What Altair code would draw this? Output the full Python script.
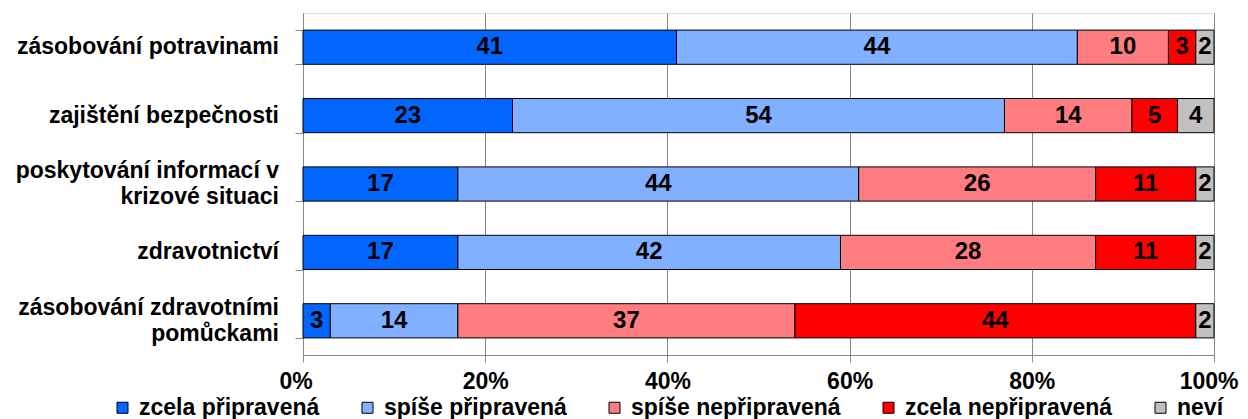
import altair as alt
import pandas as pd

categories = [
    "zásobování potravinami",
    "zajištění bezpečnosti",
    "poskytování informací v|krizové situaci",
    "zdravotnictví",
    "zásobování zdravotními|pomůckami",
]
series_names = ["zcela připravená", "spíše připravená", "spíše nepřipravená", "zcela nepřipravená", "neví"]
zcela_pripravena = [41, 23, 17, 17, 3]
spise_pripravena = [44, 54, 44, 42, 14]
spise_nepripravena = [10, 14, 26, 28, 37]
zcela_nepripravena = [3, 5, 11, 11, 44]
nevi = [2, 4, 2, 2, 2]
colors = ["#0066FF", "#80B0FF", "#FF7C80", "#FF0000", "#C0C0C0"]
x_ticks = [0, 20, 40, 60, 80, 100]

all_series = [zcela_pripravena, spise_pripravena, spise_nepripravena, zcela_nepripravena, nevi]
rows = []
for si, (name, vals) in enumerate(zip(series_names, all_series)):
    for ci, cat in enumerate(categories):
        rows.append({"category": cat, "series": name, "order": si, "value": vals[ci]})
df = pd.DataFrame(rows)
cat_df = pd.DataFrame({"category": categories})

FONT = "Liberation Sans"

base = alt.Chart(df).transform_stack(
    stack="value", groupby=["category"], as_=["x0", "x1"], sort=[alt.SortField("order")]
).transform_calculate(mid="(datum.x0 + datum.x1) / 2")

y_enc = alt.Y(
    "category:N",
    sort=categories,
    title=None,
    scale=alt.Scale(paddingInner=0.5, paddingOuter=0.25),
    axis=alt.Axis(
        labels=False,
        tickBand="extent",
        tickSize=8,
        tickColor="#888888",
        domainColor="#888888",
        grid=False,
    ),
)

bars = base.mark_bar(stroke="black", strokeWidth=1).encode(
    y=y_enc,
    x=alt.X(
        "x0:Q",
        scale=alt.Scale(domain=[0, 100], nice=False),
        title=None,
        axis=alt.Axis(
            values=x_ticks,
            labelExpr="datum.value + '%'",
            labelFont=FONT,
            labelFontSize=23,
            labelFontWeight="bold",
            labelColor="black",
            labelPadding=8,
            labelFlush=True,
            labelFlushOffset=24,
            tickSize=7,
            tickColor="#888888",
            domainColor="#888888",
            gridColor="#888888",
            gridWidth=1,
            grid=True,
        ),
    ),
    x2="x1:Q",
    color=alt.Color(
        "series:N",
        scale=alt.Scale(domain=series_names, range=colors),
        legend=alt.Legend(
            title=None,
            orient="none",
            direction="horizontal",
            legendX=-192,
            legendY=383,
            symbolType="square",
            symbolSize=121,
            symbolStrokeColor="black",
            symbolStrokeWidth=1,
            labelFont=FONT,
            labelFontSize=23,
            labelFontWeight="bold",
            labelColor="black",
            labelOffset=5,
            labelLimit=400,
            columnPadding=36,
        ),
    ),
    order=alt.Order("order:Q"),
)

labels = base.mark_text(
    font=FONT, fontSize=24, fontWeight="bold", color="black", baseline="middle", align="center"
).encode(
    y=alt.Y("category:N", sort=categories),
    x=alt.X("mid:Q"),
    text=alt.Text("value:Q"),
)

cat_base = alt.Chart(cat_df)
cat_text_style = dict(
    font=FONT, fontSize=23, fontWeight="bold", color="black",
    baseline="middle", align="right", lineBreak="|", lineHeight=26,
)
single_labels = cat_base.transform_filter("indexof(datum.category, '|') < 0").mark_text(
    **cat_text_style
).encode(
    y=alt.Y("category:N", sort=categories),
    x=alt.value(-24),
    text="category:N",
)
multi_labels = cat_base.transform_filter("indexof(datum.category, '|') >= 0").mark_text(
    dy=-13, **cat_text_style
).encode(
    y=alt.Y("category:N", sort=categories),
    x=alt.value(-24),
    text="category:N",
)

chart = (
    alt.layer(bars, labels, single_labels, multi_labels)
    .properties(
        width=911,
        height=342,
        autosize=alt.AutoSizeParams(type="none"),
        padding={"left": 295, "top": 5, "right": 26, "bottom": 64},
    )
    .configure_view(stroke="transparent")
    .configure(background="white")
)

chart.save("out.html", embed_options={"renderer": "svg", "actions": False})
